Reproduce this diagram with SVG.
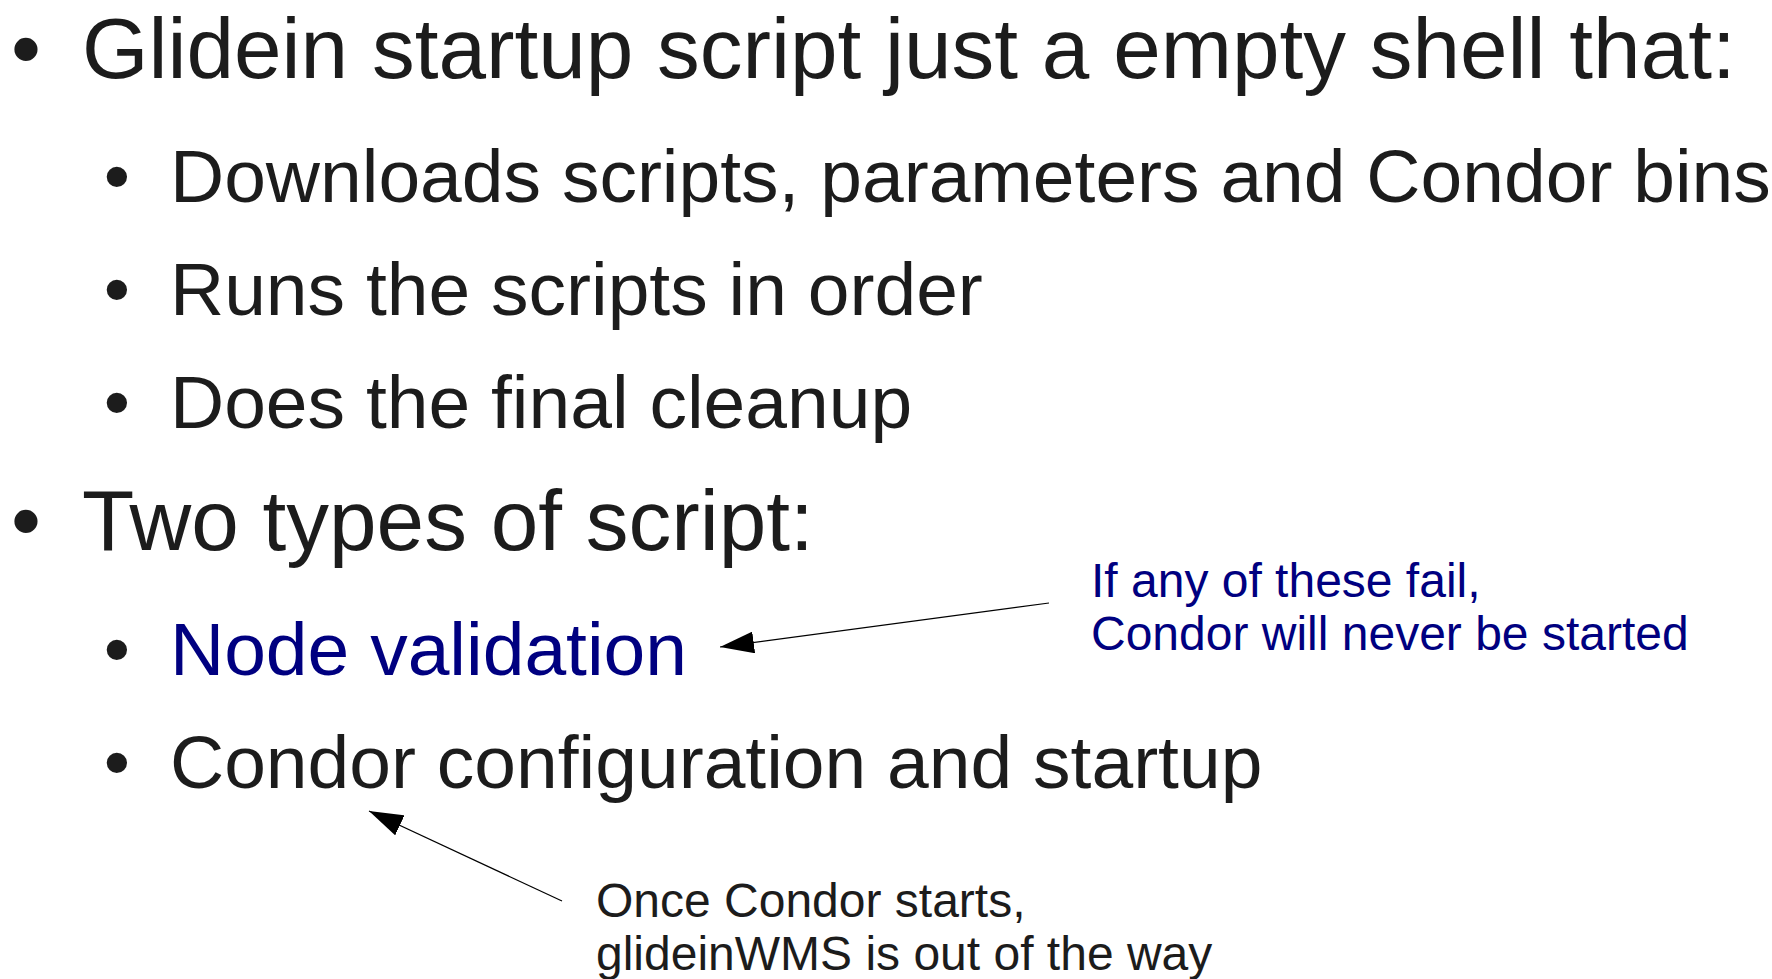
<svg xmlns="http://www.w3.org/2000/svg" width="1772" height="979" viewBox="0 0 1772 979">
<style>
text{font-family:"Liberation Sans",Arial,sans-serif;fill:#1c1c1c}
.l1{font-size:85.5px}
.l2{font-size:75px}
.b{text-anchor:middle}
.blue{fill:#000080}
.note{font-size:48px}
.conn{stroke:#000;stroke-width:1.2;fill:none;marker-end:url(#ah)}
</style>
<defs>
<marker id="ah" viewBox="0 0 34 22" refX="34" refY="11" markerWidth="34" markerHeight="22" orient="auto" markerUnits="userSpaceOnUse">
<path d="M0,0 L34,11 L0,22 z" fill="#000"/>
</marker>
</defs>
<rect width="1772" height="979" fill="#fff"/>
<g id="item-glidein">
<text class="l1 b" x="26" y="78">•</text>
<text class="l1" x="82" y="78">Glidein startup script just a empty shell that:</text>
</g>
<g id="item-downloads">
<text class="l2 b" x="117" y="202">•</text>
<text class="l2" x="170" y="202">Downloads scripts, parameters and Condor bins</text>
</g>
<g id="item-runs">
<text class="l2 b" x="117" y="315">•</text>
<text class="l2" x="170" y="315">Runs the scripts in order</text>
</g>
<g id="item-cleanup">
<text class="l2 b" x="117" y="428">•</text>
<text class="l2" x="170" y="428">Does the final cleanup</text>
</g>
<g id="item-types">
<text class="l1 b" x="26" y="550">•</text>
<text class="l1" x="82" y="550">Two types of script:</text>
</g>
<g id="item-node">
<text class="l2 b" x="117" y="675">•</text>
<text class="l2 blue" x="170" y="675">Node validation</text>
</g>
<g id="item-condor">
<text class="l2 b" x="117" y="788">•</text>
<text class="l2" x="170" y="788">Condor configuration and startup</text>
</g>
<g id="note-fail">
<text class="note blue" x="1091" y="597">If any of these fail,</text>
<text class="note blue" x="1091" y="650">Condor will never be started</text>
</g>
<g id="note-once">
<text class="note" x="596" y="917">Once Condor starts,</text>
<text class="note" x="596" y="970">glideinWMS is out of the way</text>
</g>
<g id="connectors">
<line class="conn" x1="1049" y1="603" x2="720" y2="647"/>
<line class="conn" x1="562" y1="901" x2="369" y2="811"/>
</g>
</svg>
